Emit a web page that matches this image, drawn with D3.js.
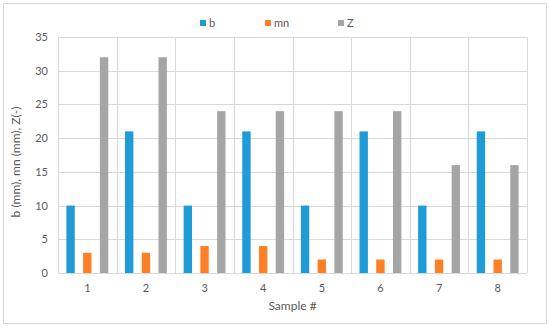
<!DOCTYPE html>
<html>
<head>
<meta charset="utf-8">
<script src="https://cdn.jsdelivr.net/npm/d3@7"></script>
<style>
  body { margin: 0; background: #fff; }
  text { font-family: Lato, "Open Sans", sans-serif; fill: #595959; }
</style>
</head>
<body>
<script>
var width = 550,
    height = 329;

// data
var samples = ["1", "2", "3", "4", "5", "6", "7", "8"];
var seriesNames = ["b", "mn", "Z"];
var bValues = [10, 21, 10, 21, 10, 21, 10, 21];
var mnValues = [3, 3, 4, 4, 2, 2, 2, 2];
var zValues = [32, 32, 24, 24, 24, 24, 16, 16];
var yTicks = [0, 5, 10, 15, 20, 25, 30, 35];
var colors = ["#1f9bd7", "#fe7f26", "#a5a5a5"];

var margin = {top: 37, right: 23, bottom: 56, left: 58};

var svg = d3.select("body").append("svg")
    .attr("width", width)
    .attr("height", height);

// outer chart frame
svg.append("rect")
    .attr("x", 3.5).attr("y", 3.5)
    .attr("width", 543).attr("height", 320)
    .attr("fill", "#fff")
    .attr("stroke", "#d9d9d9");

var x0 = d3.scaleBand()
    .domain(samples)
    .range([margin.left, width - margin.right]);

var groupPad = x0.bandwidth() / 7;
var x1 = d3.scaleBand()
    .domain(seriesNames)
    .range([groupPad, x0.bandwidth() - groupPad])
    .paddingInner(0.5);

var y = d3.scaleLinear()
    .domain([0, 35])
    .range([height - margin.bottom, margin.top]);

var g = svg.append("g");

// horizontal grid
g.selectAll(".hgrid")
    .data(yTicks)
    .enter().append("line")
    .attr("x1", margin.left).attr("x2", width - margin.right)
    .attr("y1", function(d) { return Math.round(y(d)) + 0.5; })
    .attr("y2", function(d) { return Math.round(y(d)) + 0.5; })
    .attr("stroke", "#d9d9d9");

// vertical grid at category edges
var edges = samples.map(function(s) { return x0(s); }).concat([width - margin.right]);
g.selectAll(".vgrid")
    .data(edges)
    .enter().append("line")
    .attr("x1", function(d) { return Math.round(d) + 0.5; })
    .attr("x2", function(d) { return Math.round(d) + 0.5; })
    .attr("y1", y(35)).attr("y2", y(0))
    .attr("stroke", "#d9d9d9");

var rows = samples.map(function(s, i) {
  return {sample: s, vals: [bValues[i], mnValues[i], zValues[i]]};
});

var groups = g.selectAll(".grp")
    .data(rows)
    .enter().append("g")
    .attr("transform", function(d) { return "translate(" + x0(d.sample) + ",0)"; });

groups.selectAll("rect")
    .data(function(d) { return d.vals.map(function(v, i) { return {key: seriesNames[i], v: v, c: colors[i]}; }); })
    .enter().append("rect")
    .attr("x", function(d) { return x1(d.key); })
    .attr("width", x1.bandwidth())
    .attr("y", function(d) { return y(d.v); })
    .attr("height", function(d) { return y(0) - y(d.v); })
    .attr("fill", function(d) { return d.c; });

// axes
var yAxis = svg.append("g")
    .attr("transform", "translate(" + (margin.left - 7) + ",0)")
    .call(d3.axisLeft(y).tickValues(yTicks).tickSize(0));
yAxis.select(".domain").remove();
yAxis.selectAll("text").style("font-size", "11px").attr("fill", "#595959");

var xAxis = svg.append("g")
    .attr("transform", "translate(0," + (y(0) + 8) + ")")
    .call(d3.axisBottom(x0).tickSize(0));
xAxis.select(".domain").remove();
xAxis.selectAll("text").style("font-size", "11px").attr("fill", "#595959");

// axis titles
svg.append("text")
    .attr("x", (margin.left + width - margin.right) / 2)
    .attr("y", 310)
    .attr("text-anchor", "middle")
    .style("font-size", "12px")
    .text("Sample #");

svg.append("text")
    .attr("transform", "translate(20,162) rotate(-90)")
    .attr("text-anchor", "middle")
    .style("font-size", "12px")
    .text("b (mm), mn (mm), Z(-)");

// legend
var legendX = [200, 265, 338];
var legend = svg.selectAll(".legend")
    .data(seriesNames)
    .enter().append("g")
    .attr("transform", function(d, i) { return "translate(" + legendX[i] + ",20)"; });
legend.append("rect")
    .attr("width", 6).attr("height", 6)
    .attr("fill", function(d, i) { return colors[i]; });
legend.append("text")
    .attr("x", 9).attr("y", 7)
    .style("font-size", "11px")
    .text(function(d) { return d; });
</script>
</body>
</html>
